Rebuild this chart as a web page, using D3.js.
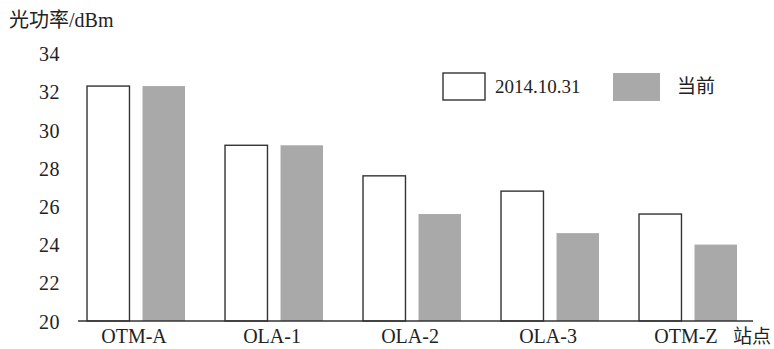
<!DOCTYPE html>
<html>
<head>
<meta charset="utf-8">
<script src="https://cdn.jsdelivr.net/npm/d3@7"></script>
<style>
  html, body { margin: 0; padding: 0; background: #fff; }
  svg { display: block; }
  text { font-family: "Liberation Serif", "Noto Sans CJK SC", serif; fill: #222; }
</style>
</head>
<body>
<svg id="chart" width="774" height="349"></svg>
<script>
// Optical power per station, two measurement dates
const stations = ["OTM-A", "OLA-1", "OLA-2", "OLA-3", "OTM-Z"];
const seriesNames = ["2014.10.31", "当前"];
const powerOld = [32.3, 29.2, 27.6, 26.8, 25.6];
const powerNow = [32.3, 29.2, 25.6, 24.6, 24.0];
const yTicks = [20, 22, 24, 26, 28, 30, 32, 34];

const svg = d3.select("#chart");
const baseY = 321;

const y = d3.scaleLinear().domain([20, 34]).range([baseY, 53.6]);
const x = d3.scaleBand().domain(stations).range([67, 757])
  .paddingInner(0.29).paddingOuter(0.145);
const xs = d3.scaleBand().domain(seriesNames).range([0, x.bandwidth()])
  .paddingInner(0.235);

const fills = { "2014.10.31": "#ffffff", "当前": "#a9a9a9" };
const values = { "2014.10.31": powerOld, "当前": powerNow };

// Bars
seriesNames.forEach(name => {
  svg.append("g").selectAll("rect")
    .data(stations.map((s, i) => ({ s, v: values[name][i] })))
    .join("rect")
      .attr("x", d => x(d.s) + xs(name))
      .attr("y", d => y(d.v))
      .attr("width", xs.bandwidth())
      .attr("height", d => baseY - y(d.v))
      .attr("fill", fills[name])
      .attr("stroke", name === "当前" ? "none" : "#333")
      .attr("stroke-width", 1.4);
});

// X axis baseline and labels
svg.append("line")
  .attr("x1", 78).attr("x2", 753).attr("y1", baseY).attr("y2", baseY)
  .attr("stroke", "#333").attr("stroke-width", 1.4);

const xAxis = d3.axisBottom(x).tickSize(0).tickPadding(0);
const gx = svg.append("g").attr("transform", `translate(-2,${baseY})`).call(xAxis);
gx.select(".domain").remove();
gx.selectAll("text")
  .attr("y", 22).attr("dy", 0)
  .style("font-size", "20px").attr("fill", "#222");

// Y axis labels only
const yAxis = d3.axisLeft(y).tickValues(yTicks).tickSize(0).tickPadding(0);
const gy = svg.append("g").attr("transform", "translate(60,0)").call(yAxis);
gy.select(".domain").remove();
gy.selectAll("text")
  .attr("dy", "0.35em")
  .style("font-size", "20px").style("letter-spacing", "0.5px").attr("fill", "#222");

// Axis titles
svg.append("text").attr("x", 9).attr("y", 27)
  .style("font-size", "20px").text("光功率/dBm");
svg.append("text").attr("x", 733).attr("y", 343)
  .style("font-size", "19px").text("站点");

// Legend
const legend = svg.append("g");
legend.append("rect").attr("x", 443).attr("y", 73).attr("width", 42).attr("height", 27)
  .attr("fill", "#fff").attr("stroke", "#333").attr("stroke-width", 1.4);
legend.append("text").attr("x", 495).attr("y", 93)
  .style("font-size", "19px").text(seriesNames[0]);
legend.append("rect").attr("x", 613).attr("y", 73).attr("width", 47).attr("height", 28)
  .attr("fill", fills["当前"]);
legend.append("text").attr("x", 677).attr("y", 93)
  .style("font-size", "19px").text(seriesNames[1]);
</script>
</body>
</html>
